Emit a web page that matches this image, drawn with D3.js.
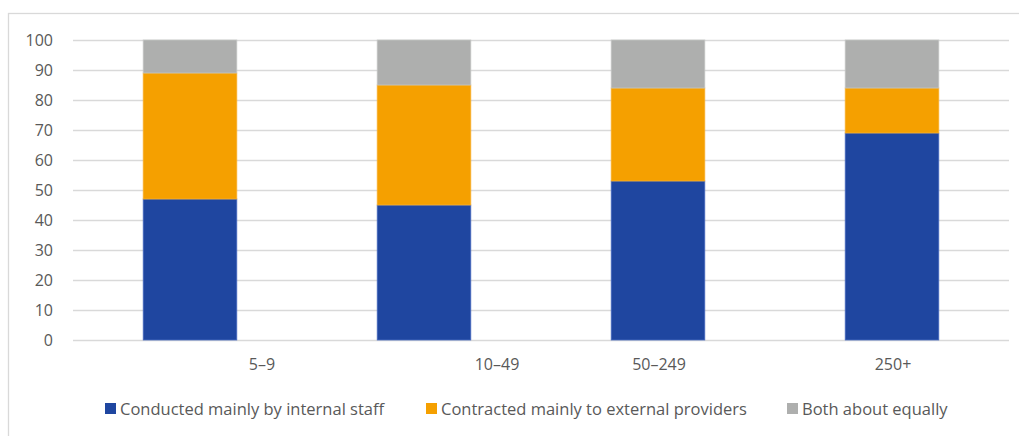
<!DOCTYPE html>
<html><head><meta charset="utf-8">
<script src="https://cdn.jsdelivr.net/npm/d3@7"></script>
<style>body{margin:0;background:#fff}svg{display:block}text{font-family:"Open Sans",sans-serif;fill:#595959}</style>
</head><body><svg id="c" width="1019" height="436"></svg>
<script>
const categories = ["5–9", "10–49", "50–249", "250+"];
const seriesNames = ["Conducted mainly by internal staff", "Contracted mainly to external providers", "Both about equally"];
const internalStaff = [47, 45, 53, 69];
const externalProviders = [42, 40, 31, 15];
const bothEqually = [11, 15, 16, 16];
const yTicks = [0, 10, 20, 30, 40, 50, 60, 70, 80, 90, 100];
const colors = ["#1F46A0", "#F5A000", "#AEAFAE"];
const strokes = ["#4A6BC0", "#F7B030", "#C4C5C4"];
const labelShift = [72, 73, 1, 1];

const svg = d3.select("#c");
svg.append("rect").attr("x", 8.5).attr("y", 13.5).attr("width", 1030).attr("height", 440)
  .attr("fill", "none").attr("stroke", "#d9d9d9").attr("stroke-width", 1.3);

const x = d3.scaleBand().domain(categories).range([73, 1009]).paddingInner(0.6).paddingOuter(0.3);
const y = d3.scaleLinear().domain([0, 100]).range([340, 40]);

const yAxis = svg.append("g").attr("transform", "translate(73,0)")
  .call(d3.axisLeft(y).tickValues(yTicks).tickSize(-936).tickPadding(20));
yAxis.select(".domain").remove();
yAxis.selectAll(".tick line").attr("stroke", "#d9d9d9").attr("stroke-width", 1.3);
yAxis.selectAll(".tick text").attr("font-size", 16).attr("fill", "#595959").style("font-family", '"Open Sans",sans-serif');

const rows = categories.map((c, i) => ({cat: c, s0: internalStaff[i], s1: externalProviders[i], s2: bothEqually[i]}));
const stack = d3.stack().keys(["s0", "s1", "s2"])(rows);
svg.append("g").selectAll("g").data(stack).join("g")
  .attr("fill", (d, i) => colors[i]).attr("stroke", (d, i) => strokes[i]).attr("stroke-width", 0.8)
  .selectAll("rect").data(d => d).join("rect")
  .attr("x", d => x(d.data.cat)).attr("width", x.bandwidth())
  .attr("y", d => y(d[1])).attr("height", d => y(d[0]) - y(d[1]));

const xAxis = svg.append("g").attr("transform", "translate(0,340)")
  .call(d3.axisBottom(x).tickSize(0).tickPadding(19));
xAxis.select(".domain").remove();
xAxis.selectAll(".tick text").attr("font-size", 16).attr("fill", "#595959")
  .style("font-family", '"Open Sans",sans-serif')
  .attr("dx", (d, i) => labelShift[i]);

const legendX = [105, 426, 787];
const lg = svg.append("g").selectAll("g").data(seriesNames).join("g")
  .attr("transform", (d, i) => `translate(${legendX[i]},403)`);
lg.append("rect").attr("width", 11).attr("height", 11).attr("fill", (d, i) => colors[i]);
lg.append("text").attr("x", 15).attr("y", 11.5).attr("font-size", 16.5).text(d => d);
</script></body></html>
